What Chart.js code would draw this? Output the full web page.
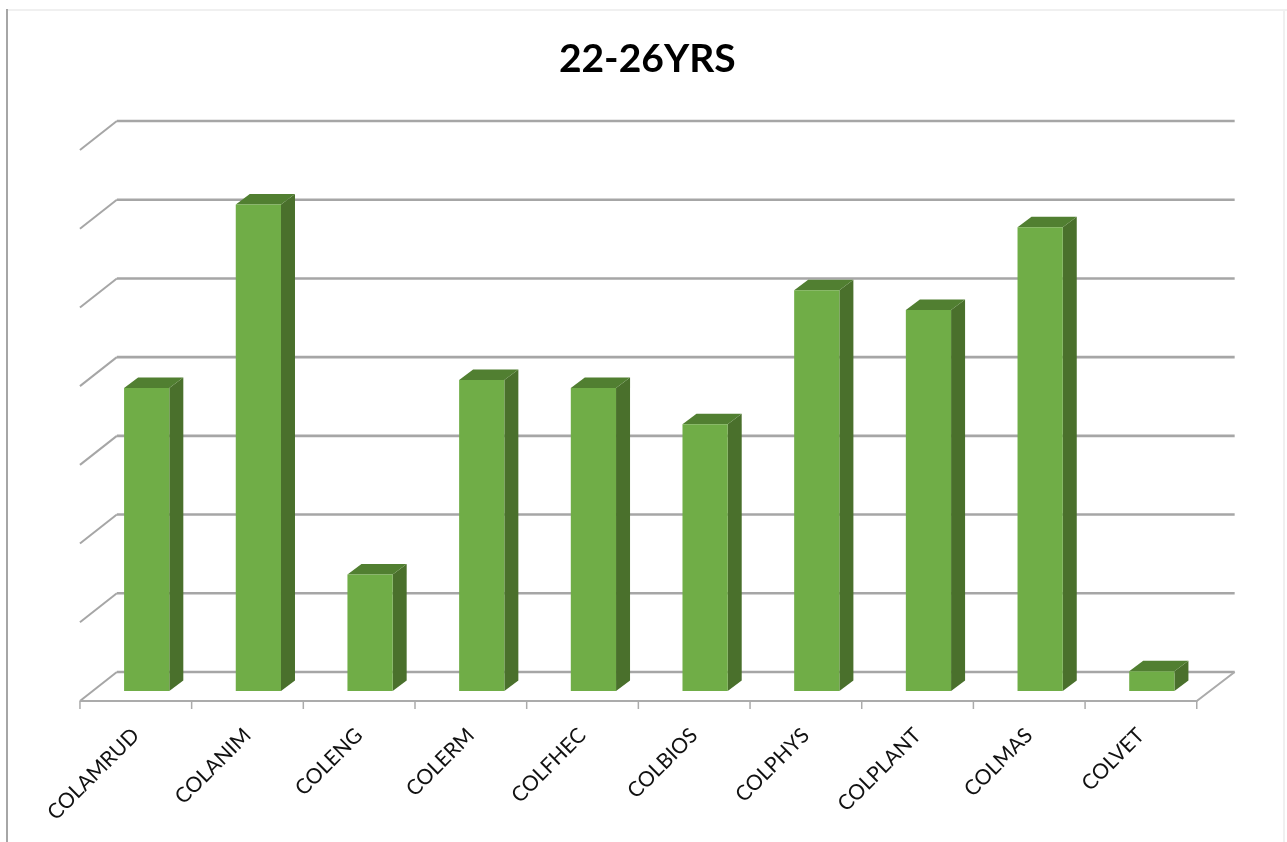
<!DOCTYPE html>
<html>
<head>
<meta charset="utf-8">
<title>22-26YRS</title>
<script src="https://cdn.jsdelivr.net/npm/chart.js@4"></script>
<style>html,body{margin:0;padding:0;background:#fff}canvas{display:block}</style>
</head>
<body>
<canvas id="c" width="1287" height="842"></canvas>
<script>
const chartTitle = "22-26YRS";
const categories = ["COLAMRUD","COLANIM","COLENG","COLERM","COLFHEC","COLBIOS","COLPHYS","COLPLANT","COLMAS","COLVET"];
const values = [19.25, 30.9, 7.4, 19.75, 19.25, 16.95, 25.45, 24.2, 29.45, 1.25];
const yMax = 35;
const yStep = 5;

const FLOOR_DX = 27, FLOOR_DY = 19;      // back wall relative to the bar plane
const FRONT_DX = 10.9, FRONT_DY = 10;    // front floor edge relative to the bar plane
const BAR_DX = 14, BAR_DY = 10.5;        // bar depth

const box3d = {
  id: 'box3d',
  afterLayout(chart) {
    chart.titleBlock.left -= 2;
    chart.titleBlock.right -= 2;
  },
  beforeDraw(chart) {
    const c = chart.ctx;
    c.save();
    c.fillStyle = '#f0f0f0';
    c.fillRect(8, 9, 1279, 2);
    c.fillRect(1283, 9, 2, 833);
    c.fillStyle = '#a6a6a6';
    c.fillRect(6, 9, 2, 833);
    c.restore();
  },
  beforeDatasetsDraw(chart) {
    const c = chart.ctx, xs = chart.scales.x, ys = chart.scales.y;
    const left = xs.left, right = xs.right;
    c.save();
    c.lineCap = 'butt';
    // wall gridlines and their side-wall diagonals
    ys.ticks.forEach(t => {
      const y = ys.getPixelForValue(t.value);
      c.strokeStyle = '#a6a6a6';
      c.lineWidth = 2.6;
      c.beginPath();
      c.moveTo(left + FLOOR_DX - 1, y - FLOOR_DY);
      c.lineTo(right + FLOOR_DX, y - FLOOR_DY);
      c.stroke();
      c.lineWidth = 2;
      c.beginPath();
      c.moveTo(left - FRONT_DX, y + FRONT_DY);
      c.lineTo(left + FLOOR_DX - 1, y - FLOOR_DY);
      c.stroke();
    });
    // floor: front edge, right diagonal, tick marks
    const y0 = ys.getPixelForValue(0);
    c.strokeStyle = '#ababab';
    c.lineWidth = 2;
    c.beginPath();
    c.moveTo(left - FRONT_DX, y0 + FRONT_DY);
    c.lineTo(right - FRONT_DX, y0 + FRONT_DY);
    c.lineTo(right + FLOOR_DX, y0 - FLOOR_DY);
    c.stroke();
    c.lineWidth = 1.5;
    for (let i = 0; i <= categories.length; i++) {
      const x = left - FRONT_DX + i * (right - left) / categories.length;
      c.beginPath();
      c.moveTo(x, y0 + FRONT_DY);
      c.lineTo(x, y0 + FRONT_DY + 8);
      c.stroke();
    }
    // bar side and top faces
    chart.getDatasetMeta(0).data.forEach(b => {
      const l = b.x - b.width / 2, r = b.x + b.width / 2, t = b.y, bt = b.base;
      c.fillStyle = '#4a702c';
      c.beginPath();
      c.moveTo(r, t); c.lineTo(r + BAR_DX, t - BAR_DY);
      c.lineTo(r + BAR_DX, bt - BAR_DY); c.lineTo(r, bt);
      c.closePath(); c.fill();
      c.fillStyle = '#517f31';
      c.beginPath();
      c.moveTo(l, t); c.lineTo(l + BAR_DX, t - BAR_DY);
      c.lineTo(r + BAR_DX, t - BAR_DY); c.lineTo(r, t);
      c.closePath(); c.fill();
    });
    c.restore();
  }
};

new Chart(document.getElementById('c'), {
  type: 'bar',
  data: {
    labels: categories,
    datasets: [{
      label: chartTitle,
      data: values,
      backgroundColor: '#70ad47',
      borderWidth: 0,
      categoryPercentage: 1,
      barPercentage: 0.405
    }]
  },
  options: {
    responsive: false,
    animation: false,
    events: [],
    layout: { autoPadding: false, padding: { left: 90.86, right: 79.34, top: 36, bottom: 0 } },
    plugins: {
      legend: { display: false },
      tooltip: { enabled: false },
      title: {
        display: true,
        text: chartTitle,
        color: '#000',
        font: { family: 'Lato', size: 39, weight: 'bold', lineHeight: 1.2 },
        padding: { top: 0, bottom: 57.2 }
      }
    },
    scales: {
      x: {
        grid: { display: false, drawTicks: false },
        border: { display: false },
        afterFit(s) { s.height = 151; },
        ticks: {
          autoSkip: false,
          minRotation: 45,
          maxRotation: 45,
          padding: 32,
          labelOffset: -11,
          color: '#111',
          font: { family: 'Lato', size: 21 }
        }
      },
      y: {
        min: 0,
        max: yMax,
        grid: { display: false },
        border: { display: false },
        afterFit(s) { s.width = 0; },
        ticks: { stepSize: yStep, display: false }
      }
    }
  },
  plugins: [box3d]
});
</script>
</body>
</html>
